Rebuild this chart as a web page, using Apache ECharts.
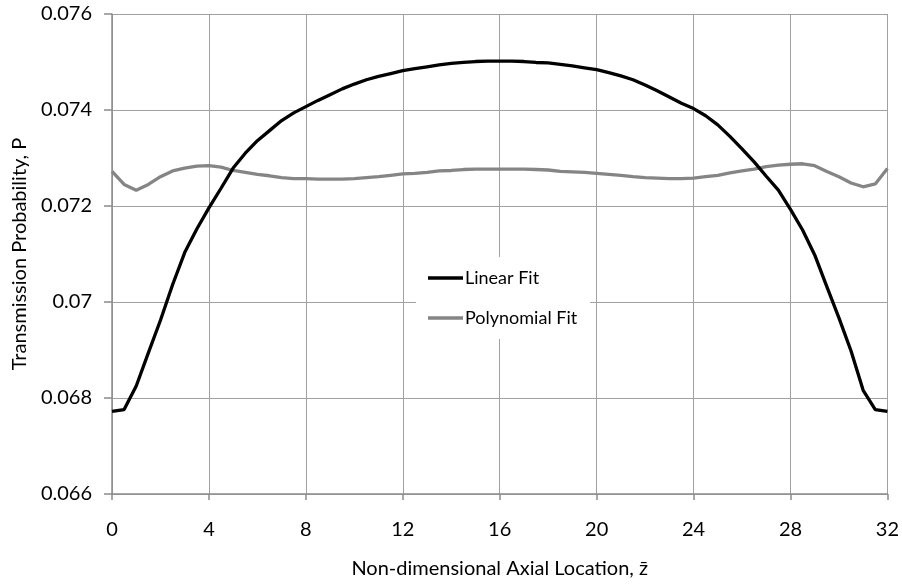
<!DOCTYPE html>
<html>
<head>
<meta charset="utf-8">
<script src="https://cdn.jsdelivr.net/npm/echarts@6/dist/echarts.min.js"></script>
<style>
  html, body { margin: 0; padding: 0; background: #ffffff; }
  #chart { width: 902px; height: 584px; }
</style>
</head>
<body>
<div id="chart"></div>
<script>
// Axial positions (non-dimensional z)
const zPositions = [
  0, 0.5, 1, 1.5, 2, 2.5, 3, 3.5, 4, 4.5, 5, 5.5, 6, 6.5, 7, 7.5,
  8, 8.5, 9, 9.5, 10, 10.5, 11, 11.5, 12, 12.5, 13, 13.5, 14, 14.5, 15, 15.5,
  16, 16.5, 17, 17.5, 18, 18.5, 19, 19.5, 20, 20.5, 21, 21.5, 22, 22.5, 23, 23.5,
  24, 24.5, 25, 25.5, 26, 26.5, 27, 27.5, 28, 28.5, 29, 29.5, 30, 30.5, 31, 31.5, 32
];

// Transmission probability, linear fit
const linearFit = [
  0.06772, 0.06776, 0.06825, 0.06894, 0.06962, 0.07036, 0.07103, 0.07152,
  0.07196, 0.07237, 0.07279, 0.07310, 0.07336, 0.07357, 0.07378, 0.07394,
  0.07407, 0.07420, 0.07432, 0.07444, 0.07454, 0.07463, 0.07470, 0.07476,
  0.07482, 0.07486, 0.07490, 0.07494, 0.07497, 0.07499, 0.07501, 0.07502,
  0.07502, 0.07502, 0.07501, 0.07499, 0.07498, 0.07495, 0.07492, 0.07488,
  0.07484, 0.07478, 0.07471, 0.07463, 0.07452, 0.07440, 0.07427, 0.07414,
  0.07403, 0.07388, 0.07369, 0.07345, 0.07319, 0.07292, 0.07262, 0.07233,
  0.07193, 0.07150, 0.07098, 0.07032, 0.06967, 0.06898, 0.06816, 0.06776,
  0.06772
];

// Transmission probability, polynomial fit
const polynomialFit = [
  0.07272, 0.07245, 0.07233, 0.07245, 0.07261, 0.07273, 0.07279, 0.07283,
  0.07284, 0.07281, 0.07274, 0.07270, 0.07266, 0.07263, 0.07259, 0.07257,
  0.07257, 0.07256, 0.07256, 0.07256, 0.07257, 0.07259, 0.07261, 0.07264,
  0.07267, 0.07268, 0.07270, 0.07273, 0.07274, 0.07276, 0.07277, 0.07277,
  0.07277, 0.07277, 0.07277, 0.07276, 0.07275, 0.07272, 0.07271, 0.07270,
  0.07268, 0.07266, 0.07264, 0.07261, 0.07259, 0.07258, 0.07257, 0.07257,
  0.07258, 0.07261, 0.07264, 0.07269, 0.07273, 0.07277, 0.07282, 0.07285,
  0.07287, 0.07288, 0.07284, 0.07272, 0.07261, 0.07248, 0.07240, 0.07246,
  0.07278
];

const seriesNames = ['Linear Fit', 'Polynomial Fit'];
const xTicks = [0, 4, 8, 12, 16, 20, 24, 28, 32];
const yTicks = [0.066, 0.068, 0.070, 0.072, 0.074, 0.076];

const FONT = 'Lato, "Liberation Sans", sans-serif';
const FS = 20;
const GRID_COLOR = '#a0a0a0';
const AXIS_COLOR = '#8c8c8c';

function pairs(xs, ys) {
  return xs.map((x, i) => [x, ys[i]]);
}

const chart = echarts.init(document.getElementById('chart'), null, { renderer: 'canvas' });

chart.setOption({
  backgroundColor: '#ffffff',
  animation: false,
  textStyle: { fontFamily: FONT, color: '#000' },
  grid: { left: 112, right: 13, top: 14, bottom: 88, containLabel: false },
  xAxis: {
    type: 'value',
    min: xTicks[0],
    max: xTicks[xTicks.length - 1],
    interval: xTicks[1] - xTicks[0],
    name: 'Non-dimensional Axial Location, z\u0304',
    nameLocation: 'middle',
    nameGap: 65,
    nameTextStyle: { fontFamily: FONT, fontSize: FS, color: '#000' },
    axisLine: { lineStyle: { color: AXIS_COLOR, width: 1.5 } },
    axisTick: { show: true, length: 6, lineStyle: { color: AXIS_COLOR, width: 1.5 } },
    axisLabel: { fontFamily: FONT, fontSize: FS, color: '#000', margin: 26 },
    splitLine: { show: true, lineStyle: { color: GRID_COLOR, width: 1 } }
  },
  yAxis: {
    type: 'value',
    min: yTicks[0],
    max: yTicks[yTicks.length - 1],
    interval: 0.002,
    name: 'Transmission Probability, P',
    nameLocation: 'middle',
    nameGap: 80,
    nameTextStyle: { fontFamily: FONT, fontSize: FS, color: '#000' },
    axisLine: { show: true, lineStyle: { color: AXIS_COLOR, width: 1.5 } },
    axisTick: { show: true, length: 8, lineStyle: { color: AXIS_COLOR, width: 1.5 } },
    axisLabel: {
      fontFamily: FONT, fontSize: FS, color: '#000', margin: 20,
      formatter: v => String(parseFloat(v.toFixed(3)))
    },
    splitLine: { show: true, lineStyle: { color: GRID_COLOR, width: 1 } }
  },
  legend: {
    orient: 'vertical',
    left: 416,
    top: 257,
    padding: [11, 13, 11, 12],
    backgroundColor: '#ffffff',
    itemWidth: 35,
    itemHeight: 14,
    itemGap: 20,
    textStyle: {
      fontFamily: FONT, fontSize: 18, lineHeight: 20, color: '#000',
      padding: [0, 0, 0, -3]
    },
    data: seriesNames.map(n => ({ name: n, icon: 'path://M0,0 L35,0 L35,3.5 L0,3.5 Z' }))
  },
  series: [
    {
      name: seriesNames[0],
      type: 'line',
      data: pairs(zPositions, linearFit),
      showSymbol: false,
      symbol: 'none',
      smooth: false,
      lineStyle: { color: '#000000', width: 3.3 },
      itemStyle: { color: '#000000' },
      z: 3
    },
    {
      name: seriesNames[1],
      type: 'line',
      data: pairs(zPositions, polynomialFit),
      showSymbol: false,
      symbol: 'none',
      smooth: false,
      lineStyle: { color: '#858585', width: 3.3 },
      itemStyle: { color: '#858585' },
      z: 2
    }
  ]
});
</script>
</body>
</html>
